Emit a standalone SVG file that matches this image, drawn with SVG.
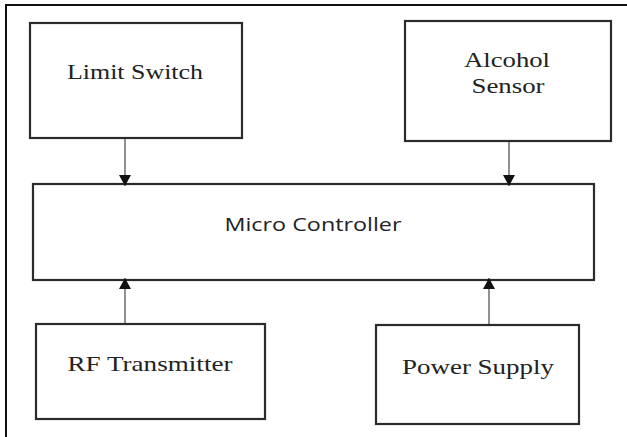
<svg xmlns="http://www.w3.org/2000/svg" width="627" height="437" viewBox="0 0 627 437">
<defs>
<style>
.box{fill:#fff;stroke:#2b2b2b;stroke-width:2.2}
.lbl{font-family:"Liberation Serif","Times New Roman",serif;font-size:21px;fill:#222;text-anchor:middle}
.mc{font-family:"Open Sans","Liberation Sans",sans-serif;font-size:19px;fill:#222;text-anchor:middle}
.wire{stroke:#555;stroke-width:1.3;fill:none;marker-end:url(#ah)}
</style>
<marker id="ah" markerUnits="userSpaceOnUse" markerWidth="14" markerHeight="12" refX="11" refY="6" orient="auto">
<path d="M0,0 L11,6 L0,12 Z" fill="#111"/>
</marker>
</defs>
<rect width="627" height="437" fill="#fff"/>
<path d="M6,437 V5 H627" fill="none" stroke="#111" stroke-width="2"/>
<g id="limit-switch">
<rect class="box" x="30" y="23" width="212" height="115"/>
<text class="lbl" x="135" y="79" textLength="136" lengthAdjust="spacingAndGlyphs">Limit Switch</text>
</g>
<g id="alcohol-sensor">
<rect class="box" x="405" y="21" width="206" height="120"/>
<text class="lbl" x="507" y="67" textLength="86" lengthAdjust="spacingAndGlyphs">Alcohol</text>
<text class="lbl" x="508" y="93" textLength="73" lengthAdjust="spacingAndGlyphs">Sensor</text>
</g>
<g id="micro-controller">
<rect class="box" x="33" y="184" width="561" height="96"/>
<text class="mc" x="313" y="231" textLength="177" lengthAdjust="spacingAndGlyphs">Micro Controller</text>
</g>
<g id="rf-transmitter">
<rect class="box" x="36" y="324" width="229" height="95"/>
<text class="lbl" x="150" y="371" textLength="165" lengthAdjust="spacingAndGlyphs">RF Transmitter</text>
</g>
<g id="power-supply">
<rect class="box" x="376" y="325" width="203" height="99"/>
<text class="lbl" x="478" y="374" textLength="152" lengthAdjust="spacingAndGlyphs">Power Supply</text>
</g>
<g id="connectors">
<line class="wire" x1="125" y1="139" x2="125" y2="186"/>
<line class="wire" x1="509" y1="142" x2="509" y2="186"/>
<line class="wire" x1="125" y1="323" x2="125" y2="278"/>
<line class="wire" x1="489" y1="324" x2="489" y2="278"/>
</g>
</svg>
